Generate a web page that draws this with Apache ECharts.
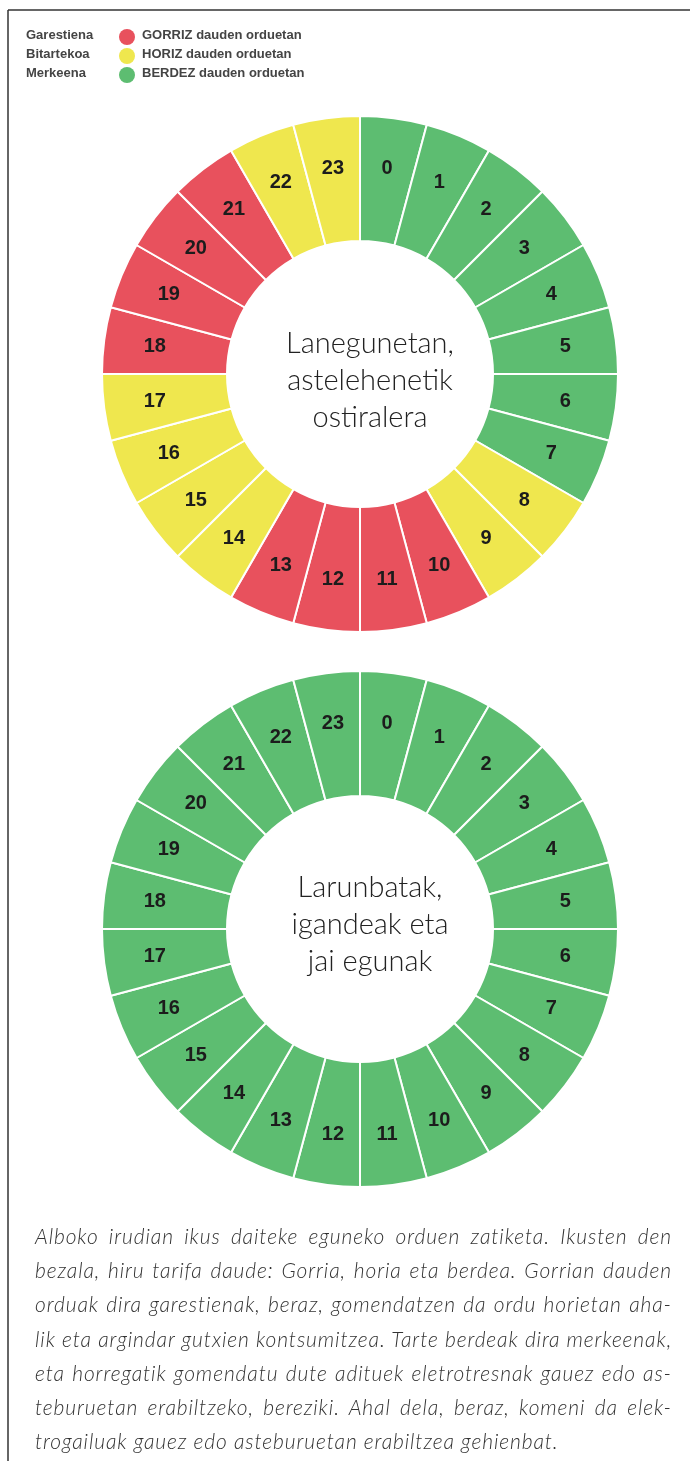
<!DOCTYPE html>
<html>
<head>
<meta charset="utf-8">
<script src="https://cdn.jsdelivr.net/npm/echarts@6/dist/echarts.min.js"></script>
<style>
  html, body { margin: 0; padding: 0; background: #fff; }
  #wrap { position: relative; width: 690px; height: 1461px; }
  #chart { position: absolute; left: 0; top: 0; width: 690px; height: 1461px; }
  #para { position: absolute; left: 35px; top: 1219px; width: 637px;
          font-family: 'Lato', 'Open Sans', sans-serif; font-weight: 300; font-style: italic;
          font-size: 21px; letter-spacing: 0.9px; line-height: 34.2px; color: #333; }
  #para div { text-align: justify; text-align-last: justify; white-space: nowrap; }
  #para div.last { text-align-last: left; }
</style>
</head>
<body>
<div id="wrap">
  <div id="chart"></div>
  <div id="para"></div>
</div>
<script>
// ---- data ----
const hours = ['0','1','2','3','4','5','6','7','8','9','10','11','12','13','14','15','16','17','18','19','20','21','22','23'];
const weekdayTariff = ['green','green','green','green','green','green','green','green','yellow','yellow','red','red','red','red','yellow','yellow','yellow','yellow','red','red','red','red','yellow','yellow'];
const weekendTariff = ['green','green','green','green','green','green','green','green','green','green','green','green','green','green','green','green','green','green','green','green','green','green','green','green'];
const tariffLevels = ['red','yellow','green'];
const tariffLeftLabels = ['Garestiena','Bitartekoa','Merkeena'];
const tariffRightLabels = ['GORRIZ dauden orduetan','HORIZ dauden orduetan','BERDEZ dauden orduetan'];
const centerTexts = ['Lanegunetan,\nastelehenetik\nostiralera', 'Larunbatak,\nigandeak eta\njai egunak'];
const paragraphLines = [
  'Alboko irudian ikus daiteke eguneko orduen zatiketa. Ikusten den',
  'bezala, hiru tarifa daude: Gorria, horia eta berdea. Gorrian dauden',
  'orduak dira garestienak, beraz, gomendatzen da ordu horietan aha-',
  'lik eta argindar gutxien kontsumitzea. Tarte berdeak dira merkeenak,',
  'eta horregatik gomendatu dute adituek eletrotresnak gauez edo as-',
  'teburuetan erabiltzeko, bereziki. Ahal dela, beraz, komeni da elek-',
  'trogailuak gauez edo asteburuetan erabiltzea gehienbat.'
];

// ---- styles ----
const colorMap = { red: '#e8515d', yellow: '#efe74e', green: '#5dbd71' };
const labelFont = { fontFamily: 'Liberation Sans, Arial, sans-serif', fontWeight: 'bold', fontSize: 20, color: '#1c1c1c' };

function ringSeries(tariff, cy) {
  const center = [360, cy];
  const data = hours.map((h, i) => ({ name: h, value: 1, itemStyle: { color: colorMap[tariff[i]] } }));
  const labelData = hours.map((h) => ({ name: h, value: 1 }));
  return [
    {
      type: 'pie', center: center, radius: [133, 258], startAngle: 90, clockwise: true,
      silent: true, animation: false,
      itemStyle: { borderColor: '#ffffff', borderWidth: 2 },
      label: { show: false }, labelLine: { show: false },
      data: data
    },
    {
      type: 'pie', center: center, radius: [150, 258], startAngle: 90, clockwise: true,
      silent: true, animation: false,
      itemStyle: { color: 'rgba(0,0,0,0)', borderWidth: 0 },
      label: Object.assign({ show: true, position: 'inside', formatter: '{b}' }, labelFont),
      labelLine: { show: false },
      data: labelData
    }
  ];
}

const graphics = [];
// frame
graphics.push({ type: 'line', shape: { x1: 8, y1: 10, x2: 690, y2: 10 }, style: { stroke: '#333', lineWidth: 1.5 } });
graphics.push({ type: 'line', shape: { x1: 8, y1: 10, x2: 8, y2: 1461 }, style: { stroke: '#333', lineWidth: 1.5 } });
// legend
const legendY = [37, 56, 75];
const legendFont = 'bold 13px "Liberation Sans Narrow", "Liberation Sans", sans-serif';
tariffLevels.forEach((lvl, i) => {
  graphics.push({ type: 'text', left: 26, top: legendY[i] - 8,
    style: { text: tariffLeftLabels[i], font: legendFont, fill: '#444' } });
  graphics.push({ type: 'circle', shape: { cx: 127, cy: legendY[i], r: 8 }, style: { fill: colorMap[lvl] } });
  graphics.push({ type: 'text', left: 142, top: legendY[i] - 8,
    style: { text: tariffRightLabels[i], font: legendFont, fill: '#444' } });
});
// center texts
[381, 925].forEach((cy, i) => {
  graphics.push({ type: 'text', x: 370, y: cy,
    style: { text: centerTexts[i], font: '300 29px Lato, "Open Sans", sans-serif', fill: '#222',
             align: 'center', verticalAlign: 'middle', lineHeight: 37 } });
});

const chart = echarts.init(document.getElementById('chart'), null, { renderer: 'canvas' });
chart.setOption({
  animation: false,
  backgroundColor: '#ffffff',
  series: [].concat(ringSeries(weekdayTariff, 374), ringSeries(weekendTariff, 929)),
  graphic: graphics
});

const para = document.getElementById('para');
paragraphLines.forEach((t, i) => {
  const d = document.createElement('div');
  d.textContent = t;
  if (i === paragraphLines.length - 1) d.className = 'last';
  para.appendChild(d);
});
</script>
</body>
</html>
